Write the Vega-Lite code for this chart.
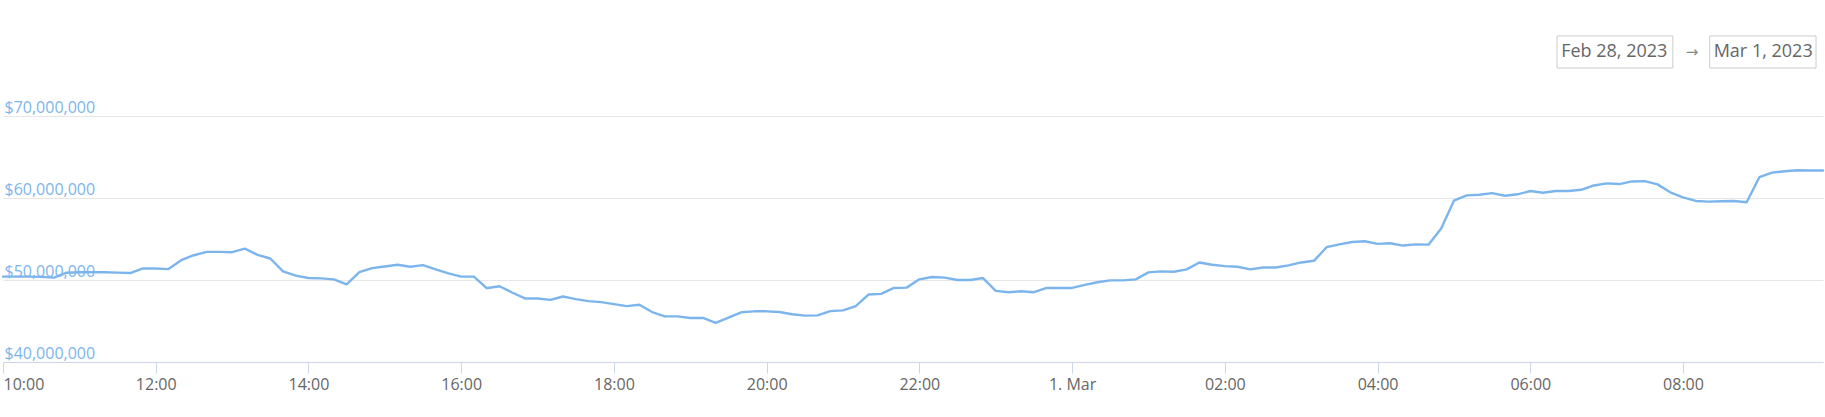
{
  "$schema": "https://vega.github.io/schema/vega-lite/v6.json",
  "width": 1820,
  "height": 362,
  "autosize": {"type": "none"},
  "padding": {"left": 3, "top": 0, "right": 2, "bottom": 55},
  "background": "white",
  "config": {
    "view": {"stroke": null},
    "font": "Open Sans"
  },
  "datasets": {
    "series": [
      {"t": "2023-02-28T10:00:00Z", "v": 50410000},
      {"t": "2023-02-28T10:10:00Z", "v": 50410000},
      {"t": "2023-02-28T10:20:00Z", "v": 50410000},
      {"t": "2023-02-28T10:30:00Z", "v": 50380000},
      {"t": "2023-02-28T10:40:00Z", "v": 50290000},
      {"t": "2023-02-28T10:50:00Z", "v": 50890000},
      {"t": "2023-02-28T11:00:00Z", "v": 50940000},
      {"t": "2023-02-28T11:10:00Z", "v": 50940000},
      {"t": "2023-02-28T11:20:00Z", "v": 50940000},
      {"t": "2023-02-28T11:30:00Z", "v": 50900000},
      {"t": "2023-02-28T11:40:00Z", "v": 50850000},
      {"t": "2023-02-28T11:50:00Z", "v": 51410000},
      {"t": "2023-02-28T12:00:00Z", "v": 51410000},
      {"t": "2023-02-28T12:10:00Z", "v": 51330000},
      {"t": "2023-02-28T12:20:00Z", "v": 52420000},
      {"t": "2023-02-28T12:30:00Z", "v": 53020000},
      {"t": "2023-02-28T12:40:00Z", "v": 53430000},
      {"t": "2023-02-28T12:50:00Z", "v": 53430000},
      {"t": "2023-02-28T13:00:00Z", "v": 53390000},
      {"t": "2023-02-28T13:10:00Z", "v": 53830000},
      {"t": "2023-02-28T13:20:00Z", "v": 53070000},
      {"t": "2023-02-28T13:30:00Z", "v": 52620000},
      {"t": "2023-02-28T13:40:00Z", "v": 51050000},
      {"t": "2023-02-28T13:50:00Z", "v": 50530000},
      {"t": "2023-02-28T14:00:00Z", "v": 50240000},
      {"t": "2023-02-28T14:10:00Z", "v": 50200000},
      {"t": "2023-02-28T14:20:00Z", "v": 50080000},
      {"t": "2023-02-28T14:30:00Z", "v": 49480000},
      {"t": "2023-02-28T14:40:00Z", "v": 50970000},
      {"t": "2023-02-28T14:50:00Z", "v": 51450000},
      {"t": "2023-02-28T15:00:00Z", "v": 51650000},
      {"t": "2023-02-28T15:10:00Z", "v": 51860000},
      {"t": "2023-02-28T15:20:00Z", "v": 51620000},
      {"t": "2023-02-28T15:30:00Z", "v": 51810000},
      {"t": "2023-02-28T15:40:00Z", "v": 51290000},
      {"t": "2023-02-28T15:50:00Z", "v": 50810000},
      {"t": "2023-02-28T16:00:00Z", "v": 50410000},
      {"t": "2023-02-28T16:10:00Z", "v": 50410000},
      {"t": "2023-02-28T16:20:00Z", "v": 49000000},
      {"t": "2023-02-28T16:30:00Z", "v": 49240000},
      {"t": "2023-02-28T16:40:00Z", "v": 48480000},
      {"t": "2023-02-28T16:50:00Z", "v": 47750000},
      {"t": "2023-02-28T17:00:00Z", "v": 47750000},
      {"t": "2023-02-28T17:10:00Z", "v": 47580000},
      {"t": "2023-02-28T17:20:00Z", "v": 47990000},
      {"t": "2023-02-28T17:30:00Z", "v": 47670000},
      {"t": "2023-02-28T17:40:00Z", "v": 47420000},
      {"t": "2023-02-28T17:50:00Z", "v": 47300000},
      {"t": "2023-02-28T18:00:00Z", "v": 47060000},
      {"t": "2023-02-28T18:10:00Z", "v": 46820000},
      {"t": "2023-02-28T18:20:00Z", "v": 46980000},
      {"t": "2023-02-28T18:30:00Z", "v": 46090000},
      {"t": "2023-02-28T18:40:00Z", "v": 45570000},
      {"t": "2023-02-28T18:50:00Z", "v": 45570000},
      {"t": "2023-02-28T19:00:00Z", "v": 45370000},
      {"t": "2023-02-28T19:10:00Z", "v": 45370000},
      {"t": "2023-02-28T19:20:00Z", "v": 44760000},
      {"t": "2023-02-28T19:30:00Z", "v": 45400000},
      {"t": "2023-02-28T19:40:00Z", "v": 46060000},
      {"t": "2023-02-28T19:50:00Z", "v": 46180000},
      {"t": "2023-02-28T20:00:00Z", "v": 46180000},
      {"t": "2023-02-28T20:10:00Z", "v": 46100000},
      {"t": "2023-02-28T20:20:00Z", "v": 45820000},
      {"t": "2023-02-28T20:30:00Z", "v": 45650000},
      {"t": "2023-02-28T20:40:00Z", "v": 45690000},
      {"t": "2023-02-28T20:50:00Z", "v": 46210000},
      {"t": "2023-02-28T21:00:00Z", "v": 46290000},
      {"t": "2023-02-28T21:10:00Z", "v": 46820000},
      {"t": "2023-02-28T21:20:00Z", "v": 48230000},
      {"t": "2023-02-28T21:30:00Z", "v": 48310000},
      {"t": "2023-02-28T21:40:00Z", "v": 49030000},
      {"t": "2023-02-28T21:50:00Z", "v": 49070000},
      {"t": "2023-02-28T22:00:00Z", "v": 50080000},
      {"t": "2023-02-28T22:10:00Z", "v": 50370000},
      {"t": "2023-02-28T22:20:00Z", "v": 50290000},
      {"t": "2023-02-28T22:30:00Z", "v": 50000000},
      {"t": "2023-02-28T22:40:00Z", "v": 50000000},
      {"t": "2023-02-28T22:50:00Z", "v": 50240000},
      {"t": "2023-02-28T23:00:00Z", "v": 48670000},
      {"t": "2023-02-28T23:10:00Z", "v": 48510000},
      {"t": "2023-02-28T23:20:00Z", "v": 48630000},
      {"t": "2023-02-28T23:30:00Z", "v": 48510000},
      {"t": "2023-02-28T23:40:00Z", "v": 49030000},
      {"t": "2023-02-28T23:50:00Z", "v": 49030000},
      {"t": "2023-03-01T00:00:00Z", "v": 49030000},
      {"t": "2023-03-01T00:10:00Z", "v": 49400000},
      {"t": "2023-03-01T00:20:00Z", "v": 49720000},
      {"t": "2023-03-01T00:30:00Z", "v": 49960000},
      {"t": "2023-03-01T00:40:00Z", "v": 49960000},
      {"t": "2023-03-01T00:50:00Z", "v": 50080000},
      {"t": "2023-03-01T01:00:00Z", "v": 50930000},
      {"t": "2023-03-01T01:10:00Z", "v": 51050000},
      {"t": "2023-03-01T01:20:00Z", "v": 51010000},
      {"t": "2023-03-01T01:30:00Z", "v": 51290000},
      {"t": "2023-03-01T01:40:00Z", "v": 52140000},
      {"t": "2023-03-01T01:50:00Z", "v": 51860000},
      {"t": "2023-03-01T02:00:00Z", "v": 51690000},
      {"t": "2023-03-01T02:10:00Z", "v": 51620000},
      {"t": "2023-03-01T02:20:00Z", "v": 51290000},
      {"t": "2023-03-01T02:30:00Z", "v": 51530000},
      {"t": "2023-03-01T02:40:00Z", "v": 51530000},
      {"t": "2023-03-01T02:50:00Z", "v": 51780000},
      {"t": "2023-03-01T03:00:00Z", "v": 52140000},
      {"t": "2023-03-01T03:10:00Z", "v": 52340000},
      {"t": "2023-03-01T03:20:00Z", "v": 54000000},
      {"t": "2023-03-01T03:30:00Z", "v": 54350000},
      {"t": "2023-03-01T03:40:00Z", "v": 54640000},
      {"t": "2023-03-01T03:50:00Z", "v": 54720000},
      {"t": "2023-03-01T04:00:00Z", "v": 54400000},
      {"t": "2023-03-01T04:10:00Z", "v": 54480000},
      {"t": "2023-03-01T04:20:00Z", "v": 54200000},
      {"t": "2023-03-01T04:30:00Z", "v": 54350000},
      {"t": "2023-03-01T04:40:00Z", "v": 54310000},
      {"t": "2023-03-01T04:50:00Z", "v": 56290000},
      {"t": "2023-03-01T05:00:00Z", "v": 59670000},
      {"t": "2023-03-01T05:10:00Z", "v": 60320000},
      {"t": "2023-03-01T05:20:00Z", "v": 60400000},
      {"t": "2023-03-01T05:30:00Z", "v": 60600000},
      {"t": "2023-03-01T05:40:00Z", "v": 60280000},
      {"t": "2023-03-01T05:50:00Z", "v": 60450000},
      {"t": "2023-03-01T06:00:00Z", "v": 60850000},
      {"t": "2023-03-01T06:10:00Z", "v": 60640000},
      {"t": "2023-03-01T06:20:00Z", "v": 60850000},
      {"t": "2023-03-01T06:30:00Z", "v": 60850000},
      {"t": "2023-03-01T06:40:00Z", "v": 61000000},
      {"t": "2023-03-01T06:50:00Z", "v": 61530000},
      {"t": "2023-03-01T07:00:00Z", "v": 61780000},
      {"t": "2023-03-01T07:10:00Z", "v": 61700000},
      {"t": "2023-03-01T07:20:00Z", "v": 62020000},
      {"t": "2023-03-01T07:30:00Z", "v": 62060000},
      {"t": "2023-03-01T07:40:00Z", "v": 61660000},
      {"t": "2023-03-01T07:50:00Z", "v": 60690000},
      {"t": "2023-03-01T08:00:00Z", "v": 60080000},
      {"t": "2023-03-01T08:10:00Z", "v": 59640000},
      {"t": "2023-03-01T08:20:00Z", "v": 59560000},
      {"t": "2023-03-01T08:30:00Z", "v": 59600000},
      {"t": "2023-03-01T08:40:00Z", "v": 59640000},
      {"t": "2023-03-01T08:50:00Z", "v": 59480000},
      {"t": "2023-03-01T09:00:00Z", "v": 62540000},
      {"t": "2023-03-01T09:10:00Z", "v": 63100000},
      {"t": "2023-03-01T09:20:00Z", "v": 63260000},
      {"t": "2023-03-01T09:30:00Z", "v": 63390000},
      {"t": "2023-03-01T09:40:00Z", "v": 63350000},
      {"t": "2023-03-01T09:50:00Z", "v": 63350000}
    ],
    "one": [{"k": 1}]
  },
  "layer": [
    {
      "data": {"name": "series"},
      "mark": {"type": "line", "color": "#7cb5ec", "strokeWidth": 2.4, "interpolate": "linear", "strokeJoin": "round", "strokeCap": "round"},
      "encoding": {
        "x": {
          "field": "t",
          "type": "temporal",
          "scale": {
            "type": "utc",
            "domain": [
              {"year": 2023, "month": "feb", "date": 28, "hours": 10, "utc": true},
              {"year": 2023, "month": "mar", "date": 1, "hours": 9, "minutes": 50, "utc": true}
            ],
            "nice": false
          },
          "axis": {
            "title": null,
            "values": [
              {"year": 2023, "month": "feb", "date": 28, "hours": 10, "utc": true},
              {"year": 2023, "month": "feb", "date": 28, "hours": 12, "utc": true},
              {"year": 2023, "month": "feb", "date": 28, "hours": 14, "utc": true},
              {"year": 2023, "month": "feb", "date": 28, "hours": 16, "utc": true},
              {"year": 2023, "month": "feb", "date": 28, "hours": 18, "utc": true},
              {"year": 2023, "month": "feb", "date": 28, "hours": 20, "utc": true},
              {"year": 2023, "month": "feb", "date": 28, "hours": 22, "utc": true},
              {"year": 2023, "month": "mar", "date": 1, "hours": 0, "utc": true},
              {"year": 2023, "month": "mar", "date": 1, "hours": 2, "utc": true},
              {"year": 2023, "month": "mar", "date": 1, "hours": 4, "utc": true},
              {"year": 2023, "month": "mar", "date": 1, "hours": 6, "utc": true},
              {"year": 2023, "month": "mar", "date": 1, "hours": 8, "utc": true}
            ],
            "labelExpr": "utchours(datum.value) == 0 ? utcFormat(datum.value, '%-d. %b') : utcFormat(datum.value, '%H:%M')",
            "grid": false,
            "domainColor": "#ccd6eb",
            "domainWidth": 1,
            "tickColor": "#ccd6eb",
            "tickSize": 11,
            "labelColor": "#666666",
            "labelFontSize": 16,
            "labelFont": "Open Sans",
            "labelPadding": 3,
            "labelFlush": true,
            "labelOverlap": false
          }
        },
        "y": {
          "field": "v",
          "type": "quantitative",
          "scale": {"domain": [40000000, 84146341], "nice": false, "zero": false},
          "axis": {
            "title": null,
            "values": [40000000, 50000000, 60000000, 70000000],
            "format": "$,.0f",
            "domain": false,
            "ticks": false,
            "tickSize": 0,
            "grid": true,
            "gridColor": "#e6e6e6",
            "gridWidth": 1,
            "labelAlign": "left",
            "labelBaseline": "alphabetic",
            "labelPadding": -1,
            "labelOffset": -4,
            "labelColor": "#7cb5ec",
            "labelFontSize": 16,
            "labelFont": "Open Sans"
          }
        }
      }
    },
    {
      "data": {"name": "one"},
      "mark": {"type": "rect", "fill": "white", "stroke": "#cccccc", "strokeWidth": 1},
      "encoding": {
        "x": {"datum": {"year": 2023, "month": "mar", "date": 1, "hours": 6, "minutes": 21, "utc": true}, "type": "temporal"},
        "x2": {"datum": {"year": 2023, "month": "mar", "date": 1, "hours": 7, "minutes": 52, "utc": true}},
        "y": {"datum": 79760000, "type": "quantitative"},
        "y2": {"datum": 75850000}
      }
    },
    {
      "data": {"name": "one"},
      "mark": {"type": "rect", "fill": "white", "stroke": "#cccccc", "strokeWidth": 1},
      "encoding": {
        "x": {"datum": {"year": 2023, "month": "mar", "date": 1, "hours": 8, "minutes": 21, "utc": true}, "type": "temporal"},
        "x2": {"datum": {"year": 2023, "month": "mar", "date": 1, "hours": 9, "minutes": 44, "seconds": 30, "utc": true}},
        "y": {"datum": 79760000, "type": "quantitative"},
        "y2": {"datum": 75850000}
      }
    },
    {
      "data": {"name": "one"},
      "mark": {"type": "text", "text": "Feb 28, 2023", "fontSize": 18, "font": "Open Sans", "color": "#666666", "align": "center", "baseline": "middle"},
      "encoding": {
        "x": {"datum": {"year": 2023, "month": "mar", "date": 1, "hours": 7, "minutes": 6, "utc": true}, "type": "temporal"},
        "y": {"datum": 77800000, "type": "quantitative"}
      }
    },
    {
      "data": {"name": "one"},
      "mark": {"type": "text", "text": "→", "fontSize": 15, "font": "DejaVu Sans", "color": "#888888", "align": "center", "baseline": "middle"},
      "encoding": {
        "x": {"datum": {"year": 2023, "month": "mar", "date": 1, "hours": 8, "minutes": 7, "utc": true}, "type": "temporal"},
        "y": {"datum": 77800000, "type": "quantitative"}
      }
    },
    {
      "data": {"name": "one"},
      "mark": {"type": "text", "text": "Mar 1, 2023", "fontSize": 18, "font": "Open Sans", "color": "#666666", "align": "center", "baseline": "middle"},
      "encoding": {
        "x": {"datum": {"year": 2023, "month": "mar", "date": 1, "hours": 9, "minutes": 3, "utc": true}, "type": "temporal"},
        "y": {"datum": 77800000, "type": "quantitative"}
      }
    }
  ]
}
